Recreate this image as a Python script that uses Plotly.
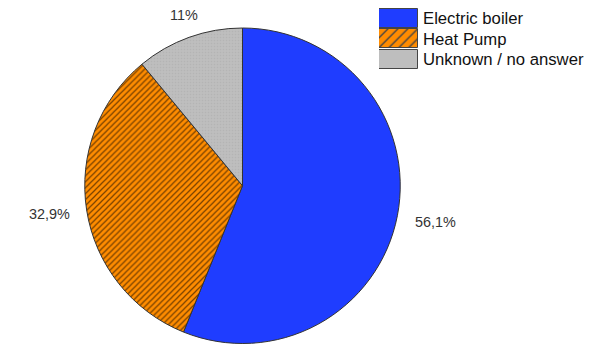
import plotly.graph_objects as go

# Heating system shares (%)
categories = ["Electric boiler", "Heat Pump", "Unknown / no answer"]
shares = [56.1, 32.9, 11.0]
colors = ["#1f3dff", "#ff8c00", "#bebebe"]
stripe_colors = ["#1f3dff", "#7a4200", "#b4b4b4"]
pattern_shapes = ["", "/", "."]
swatch_shapes = ["", "/", ""]

W, H = 603, 345
FONT = "Liberation Sans, Arial, sans-serif"

def pct_label(v):
    return f"{v:g}".replace(".", ",") + "%"

fig = go.Figure()

# Main pie, first slice starting at 12 o'clock and running clockwise
fig.add_trace(go.Pie(
    labels=categories,
    values=shares,
    sort=False,
    direction="clockwise",
    rotation=0,
    textinfo="none",
    hoverinfo="label+percent",
    showlegend=False,
    marker=dict(
        colors=colors,
        line=dict(color="#333333", width=1),
        pattern=dict(
            shape=pattern_shapes,
            bgcolor=colors,
            fgcolor=stripe_colors,
            fgopacity=1,
            size=[8, 4.2, 3],
            solidity=[0.2, 0.3, 0.2],
        ),
    ),
    domain=dict(x=[84.5 / W, 400.5 / W], y=[1.5 / H, 317 / H]),
))

# Legend: rectangular swatches with the category names to their right
swatch_len = [1, 1, 1]
fig.add_trace(go.Bar(
    x=swatch_len,
    y=categories,
    orientation="h",
    width=0.93,
    xaxis="x2", yaxis="y2",
    hoverinfo="skip",
    showlegend=False,
    marker=dict(
        color=colors,
        line=dict(color="#444444", width=1),
        pattern=dict(
            shape=swatch_shapes,
            bgcolor=colors,
            fgcolor=stripe_colors,
            fgopacity=1,
            size=[8, 7, 3],
            solidity=[0.2, 0.2, 0.2],
        ),
    ),
))

# Percentage labels placed around the pie
label_pos = [(435, 222), (49, 214), (184, 15)]
for v, (px, py) in zip(shares, label_pos):
    fig.add_annotation(
        x=px / W, y=1 - py / H, xref="paper", yref="paper",
        text=pct_label(v), showarrow=False,
        font=dict(family=FONT, size=14.4, color="#333333"),
        xanchor="center", yanchor="middle",
    )

fig.update_layout(
    width=W, height=H,
    margin=dict(l=0, r=0, t=0, b=0),
    paper_bgcolor="white",
    plot_bgcolor="rgba(0,0,0,0)",
    showlegend=False,
    bargap=0,
    xaxis=dict(visible=False),
    yaxis=dict(visible=False),
    xaxis2=dict(domain=[379 / W, 418 / W], range=[0, 1], visible=False,
                anchor="y2", fixedrange=True),
    yaxis2=dict(domain=[1 - 69.5 / H, 1 - 8 / H], anchor="x2", side="right",
                autorange="reversed", showgrid=False, zeroline=False,
                showline=False, ticks="", ticklabelstandoff=4,
                tickfont=dict(family=FONT, size=16.7, color="#111111"),
                fixedrange=True),
)

fig.write_html("out.html")
